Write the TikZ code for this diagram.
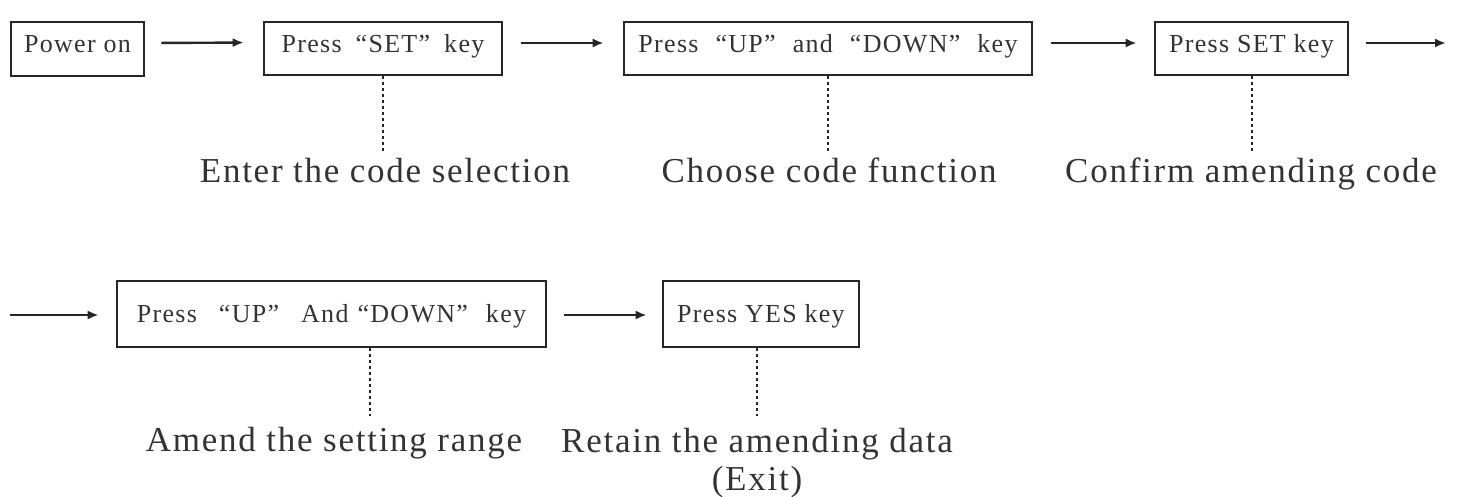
\documentclass[tikz,border=0pt]{standalone}
\usepackage{fontspec}
\usetikzlibrary{arrows.meta}
\newfontfamily\boxfont[LetterSpace=5]{Liberation Serif}
\newfontfamily\lblfont[LetterSpace=5]{Liberation Serif}
\definecolor{ink}{HTML}{262626}
\definecolor{txt}{HTML}{333333}
\tikzset{
  stepbox/.style={draw=ink, line width=2.6pt, inner sep=0pt, text=txt,
    font=\boxfont\fontsize{26}{30}\selectfont, text height=18pt, text depth=10pt},
  lowbox/.style={stepbox, text depth=2pt},
  flow/.style={draw=ink, line width=2.4pt, -{Latex[length=11pt,width=9pt]}},
  hint/.style={draw=ink, line width=2.6pt, dash pattern=on 2.5pt off 3.5pt},
  note/.style={text=txt, inner sep=0pt, font=\lblfont\fontsize{35}{38}\selectfont}
}
\newcommand{\gap}[1]{\hspace*{#1pt}}
\begin{document}
\begin{tikzpicture}[x=1pt,y=-1pt]
\useasboundingbox (0,0) rectangle (1457,497);

% first row of steps
\node[stepbox, minimum width=133pt, minimum height=54pt] (b1) at (77.5,49) {Power on};
\node[stepbox, minimum width=238pt, minimum height=53pt] (b2) at (383,48.5) {Press\gap{14}“SET”\gap{14}key};
\node[stepbox, minimum width=408pt, minimum height=53pt] (b3) at (828,48.5) {Press\gap{17}“UP”\gap{17}and\gap{17}“DOWN”\gap{17}key};
\node[stepbox, minimum width=193pt, minimum height=53pt] (b4) at (1251.5,48.5) {Press SET key};

% second row of steps
\node[lowbox, minimum width=429pt, minimum height=66pt] (b5) at (331.5,314) {Press\gap{22}“UP”\gap{22}And\gap{9}“DOWN”\gap{18}key};
\node[lowbox, minimum width=196pt, minimum height=66pt] (b6) at (761,314) {Press YES key};

% explanations under the steps
\node[note, anchor=base] (l2) at (385,183) {Enter the code selection};
\node[note, anchor=base] (l3) at (829,183) {Choose code function};
\node[note, anchor=base] (l4) at (1251,183) {Confirm amending code};
\node[note, anchor=base] (l5) at (334,451) {Amend the setting range};
\node[note, anchor=north, align=center] (l6) at (757,428) {Retain the amending data\\(Exit)};

% ends of the dotted leaders
\coordinate (d2) at (383,151);
\coordinate (d3) at (828,151);
\coordinate (d4) at (1252,151);
\coordinate (d5) at (370,416);
\coordinate (d6) at (757,416);

\draw[hint] (b2.south -| d2) -- (d2);
\draw[hint] (b3.south -| d3) -- (d3);
\draw[hint] (b4.south -| d4) -- (d4);
\draw[hint] (b5.south -| d5) -- (d5);
\draw[hint] (b6.south -| d6) -- (d6);

% flow arrows
\coordinate (out4) at (1446,43);
\coordinate (in5) at (10,315);
\draw[flow, shorten <=16pt, shorten >=19pt] ([yshift=6pt]b1.east) -- ([yshift=6pt]b2.west);
\draw[flow, shorten <=18pt, shorten >=19pt] ([yshift=5.5pt]b2.east) -- ([yshift=5.5pt]b3.west);
\draw[flow, shorten <=18pt, shorten >=17pt] ([yshift=5.5pt]b3.east) -- ([yshift=5.5pt]b4.west);
\draw[flow, shorten <=17pt] (b4.east |- out4) -- (out4);
\draw[flow, shorten >=17pt] (in5) -- (b5.west |- in5);
\draw[flow, shorten <=17pt, shorten >=15pt] ([yshift=-1pt]b5.east) -- ([yshift=-1pt]b6.west);
\end{tikzpicture}
\end{document}
